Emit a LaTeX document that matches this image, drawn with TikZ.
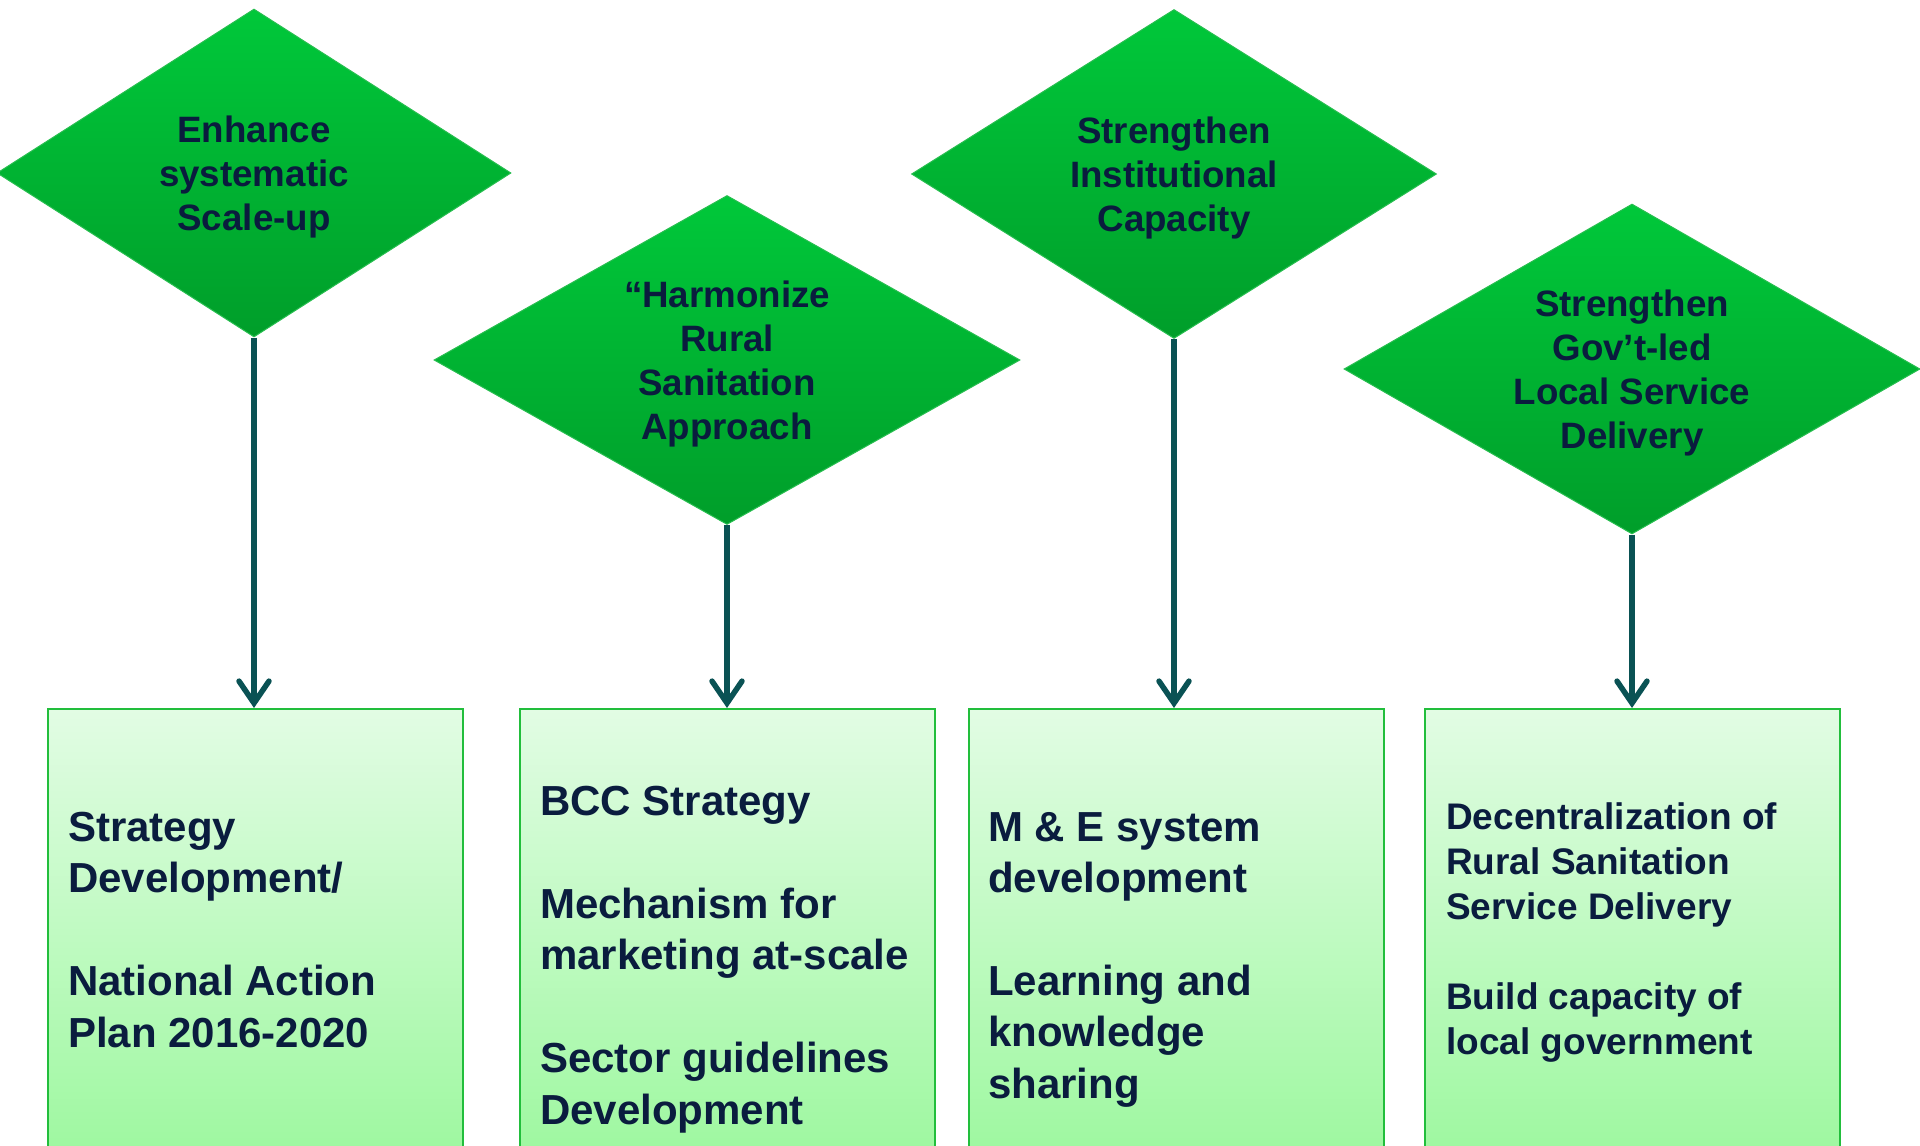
\documentclass[tikz,border=0pt]{standalone}
\usepackage{fontspec}
\setmainfont{Liberation Sans}
\usetikzlibrary{shapes,arrows.meta}
\usetikzlibrary{calc}

\definecolor{navytext}{RGB}{10,28,62}
\definecolor{leaftop}{RGB}{0,200,58}
\definecolor{leafbot}{RGB}{0,158,42}
\definecolor{leafline}{RGB}{40,190,80}
\definecolor{boxtop}{RGB}{226,252,228}
\definecolor{boxbot}{RGB}{158,248,160}
\definecolor{boxline}{RGB}{34,190,60}
\definecolor{stem}{RGB}{10,82,84}

\begin{document}
\begin{tikzpicture}[x=1pt, y=-1pt,
  goal/.style={diamond, aspect=1.6, inner sep=0pt, text depth=-11pt, top color=leaftop, bottom color=leafbot, draw=leafline, line width=1pt, text=navytext, align=center, font=\bfseries\fontsize{36.7}{44}\selectfont},
  task/.style={rectangle, minimum width=415pt, minimum height=445pt, anchor=north, top color=boxtop, bottom color=boxbot, draw=boxline, line width=2pt},
  tasktext/.style={anchor=base west, align=left, inner sep=0pt, text=navytext, font=\bfseries\fontsize{42}{51.4}\selectfont},
  link/.style={-{Straight Barb[length=22pt, width=30pt, line cap=round]}, line width=5.5pt, draw=stem}]
\useasboundingbox (0,0) rectangle (1920,1146);

\node[goal, minimum width=514pt, minimum height=328pt] (scaleup) at (254,173) {Enhance\\systematic\\Scale-up};
\node[goal, minimum width=586pt, minimum height=329pt] (harmonize) at (727,360) {“Harmonize\\Rural\\Sanitation\\Approach};
\node[goal, minimum width=525pt, minimum height=329pt] (institution) at (1174,174) {Strengthen\\Institutional\\Capacity};
\node[goal, minimum width=576pt, minimum height=330pt] (localgov) at (1632,369) {Strengthen\\Gov’t-led\\Local Service\\Delivery};

\node[task] (strategy) at (255,708) {};
\node[task] (bcc) at (727,708) {};
\node[task] (monitor) at (1176,708) {};
\node[task] (decentral) at (1632,708) {};

% the base anchor sits on the last line
\node[tasktext] (strategytext) at (68,1047) {Strategy\\Development/\\[51.4pt]National Action\\Plan 2016-2020};
\node[tasktext] (bcctext) at (540,1124) {BCC Strategy\\[51.4pt]Mechanism for\\marketing at-scale\\[51.4pt]Sector guidelines\\Development};
\node[tasktext] (monitortext) at (988,1098) {M \& E system\\development\\[51.4pt]Learning and\\knowledge\\sharing};
\node[tasktext, font=\bfseries\fontsize{37}{45}\selectfont] (decentraltext) at (1446,1054) {Decentralization of\\Rural Sanitation\\Service Delivery\\[45pt]Build capacity of\\local government};

\draw[link] (scaleup.south) -- (scaleup.south |- strategy.north);
\draw[link] (harmonize.south) -- (harmonize.south |- bcc.north);
\draw[link] (institution.south) -- (institution.south |- monitor.north);
\draw[link] (localgov.south) -- (localgov.south |- decentral.north);
\end{tikzpicture}
\end{document}
